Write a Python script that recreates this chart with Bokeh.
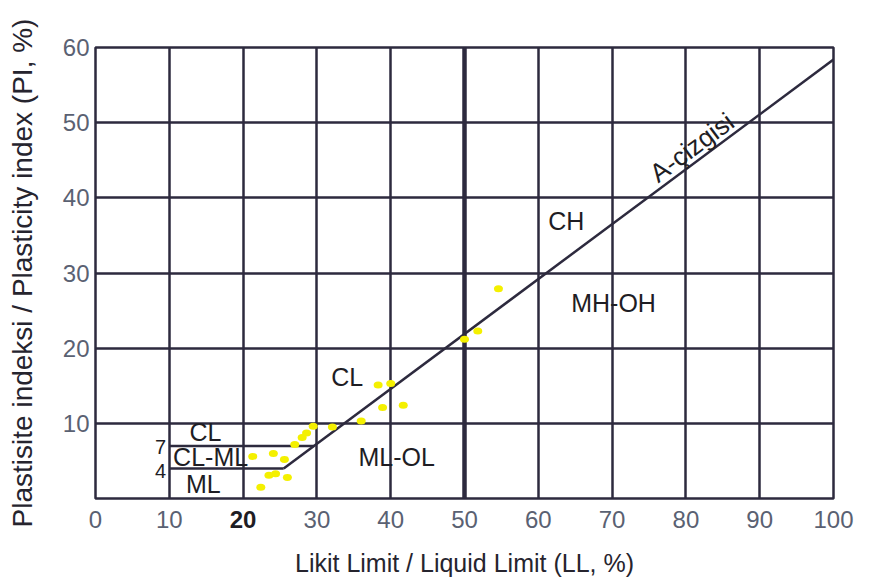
from bokeh.plotting import figure
from bokeh.models import FixedTicker, LinearAxis, Range1d
from bokeh.core.properties import value
from bokeh.embed import file_html
from bokeh.resources import INLINE

# ---- data ----
x_ticks = [0, 10, 30, 40, 50, 60, 70, 80, 90, 100]
bold_x_ticks = [20]
y_ticks = [10, 20, 30, 40, 50, 60]
grid_x = [10, 20, 30, 40, 50, 60, 70, 80, 90]
grid_y = [10, 20, 30, 40, 50]

sample_ll = [22.4, 23.5, 24.4, 26.0, 21.3, 24.1, 25.6, 27.0, 28.0, 28.6,
             29.5, 32.1, 36.0, 38.9, 41.7, 38.3, 40.0, 50.0, 51.8, 54.6]
sample_pi = [1.5, 3.1, 3.3, 2.8, 5.6, 6.0, 5.2, 7.2, 8.1, 8.7,
             9.6, 9.5, 10.3, 12.1, 12.4, 15.1, 15.3, 21.2, 22.3, 27.9]

aline_ll = [25.5, 100.0]
aline_pi = [4.0, 58.4]

band_x0 = [10, 10]
band_x1 = [29.6, 25.5]
band_pi = [7, 4]

zone_labels = ["CH", "MH-OH", "CL", "ML-OL", "CL", "CL-ML", "ML"]
zone_ll = [63.8, 70.2, 34.1, 40.8, 14.9, 15.6, 14.6]
zone_pi = [36.9, 26.0, 16.1, 5.5, 8.9, 5.5, 1.9]

band_labels = ["7", "4"]
band_label_ll = [8.8, 8.8]
band_label_pi = [6.9, 3.6]

FONT = "Liberation Sans"
GRID = "#2d2a3e"
TICK = "#5a6172"
INK = "#1e1d24"

p = figure(width=869, height=586, output_backend="svg", toolbar_location=None,
           x_range=Range1d(0, 100), y_range=Range1d(0, 60),
           min_border_left=95, min_border_right=36, min_border_top=47,
           min_border_bottom=88)
p.background_fill_color = "white"
p.border_fill_color = "white"
p.outline_line_color = GRID
p.outline_line_width = 2.5
p.outline_line_alpha = 1.0

# axes
p.xaxis.ticker = FixedTicker(ticks=x_ticks)
p.yaxis.ticker = FixedTicker(ticks=y_ticks)

# second bottom axis: bold "20" on the same row, carries the axis title
bold_axis = LinearAxis(ticker=FixedTicker(ticks=bold_x_ticks))
p.add_layout(bold_axis, "below")

for ax in (p.xaxis + p.yaxis):
    ax.axis_line_color = None
    ax.major_tick_line_color = None
    ax.minor_tick_line_color = None
    ax.major_label_text_font = FONT
    ax.major_label_text_font_size = "24px"
    ax.major_label_text_color = TICK
    ax.axis_label_text_font = FONT
    ax.axis_label_text_font_style = "normal"
    ax.axis_label_text_color = "#26242e"

main_x = p.xaxis[0]
main_x.major_label_standoff = 6
bold_axis.major_label_standoff = -26
bold_axis.major_label_text_color = INK
bold_axis.major_label_text_font_style = "bold"
bold_axis.axis_label = "Likit Limit / Liquid Limit (LL, %)"
bold_axis.axis_label_text_font_size = "25px"
bold_axis.axis_label_standoff = 18

p.yaxis.major_label_standoff = 0
p.yaxis.axis_label = "Plastisite indeksi / Plasticity index (PI, %)"
p.yaxis.axis_label_text_font_size = "28px"
p.yaxis.axis_label_standoff = 22

# grid
p.xgrid.ticker = FixedTicker(ticks=grid_x)
p.ygrid.ticker = FixedTicker(ticks=grid_y)
for g in (p.xgrid + p.ygrid):
    g.grid_line_color = GRID
    g.grid_line_width = 2.5
    g.grid_line_alpha = 1.0

# thicker LL = 50 line
p.segment(x0=[50], y0=[0], x1=[50], y1=[60], line_color=GRID, line_width=4.5)

# PI = 7 and PI = 4 band lines
p.segment(x0=band_x0, y0=band_pi, x1=band_x1, y1=band_pi, line_color=GRID, line_width=2.5)

# A-line
p.line(aline_ll, aline_pi, line_color=GRID, line_width=2.5)

# samples
p.ellipse(x=sample_ll, y=sample_pi, width=9, height=7, width_units="screen",
          height_units="screen", fill_color="#f4f000", line_color=None)

# zone labels
p.text(x=zone_ll, y=zone_pi, text=zone_labels, text_font=value(FONT),
       text_font_size="25px", text_color=INK, text_align="center",
       text_baseline="middle")
p.text(x=band_label_ll, y=band_label_pi, text=band_labels, text_font=value(FONT),
       text_font_size="20px", text_color=INK, text_align="center",
       text_baseline="middle")
p.text(x=[80.8], y=[46.7], text=["A-çizgisi"], angle=0.639, text_font=value(FONT),
       text_font_size="26px", text_color=INK, text_align="center",
       text_baseline="middle")

open("out.html", "w").write(file_html(p, INLINE))
